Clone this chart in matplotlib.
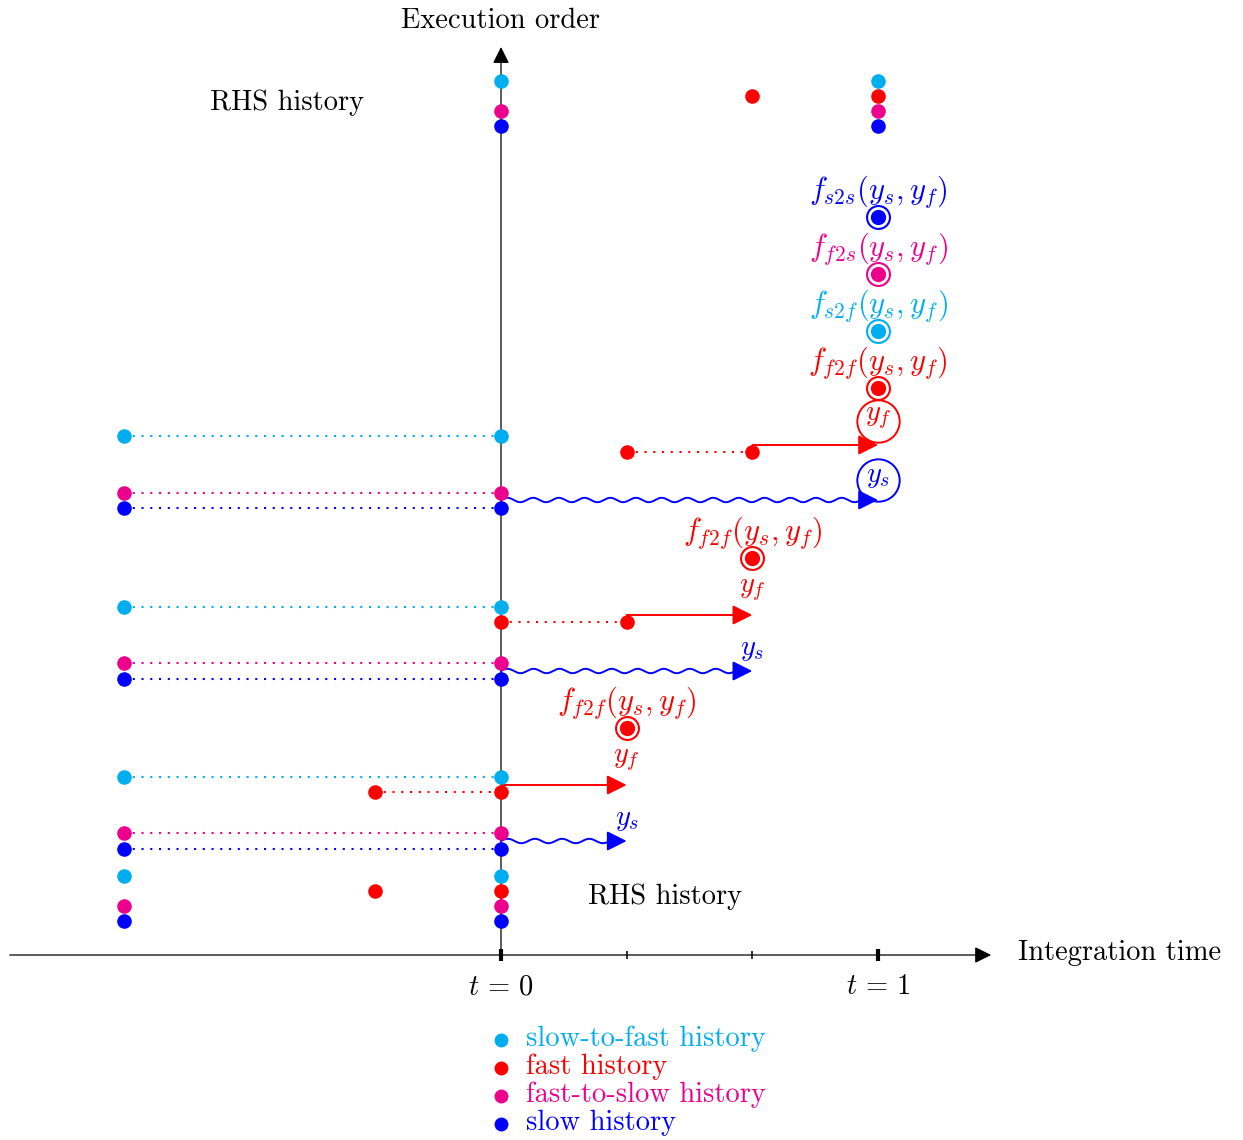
import numpy as np
import matplotlib
matplotlib.use('Agg')
import matplotlib.pyplot as plt
from matplotlib.patches import FancyArrowPatch
from matplotlib.path import Path

plt.rcParams['font.family'] = 'cmr10'
plt.rcParams['mathtext.fontset'] = 'cm'
plt.rcParams['axes.formatter.use_mathtext'] = True

CYAN = '#00AEEF'
RED = '#FF0000'
MAGENTA = '#EC008C'
BLUE = '#0000FF'

# integration time of every history point (t) and its height on the execution-order axis (y)
s2f_t = [-1, 0, -1, 0, -1, 0, -1, 0, 0, 1]
s2f_y = [79, 79, 178, 178, 348, 348, 519, 519, 874, 874]
fast_t = [-1/3, 0, -1/3, 0, 0, 1/3, 1/3, 2/3, 2/3, 1]
fast_y = [64, 64, 163, 163, 333, 333, 503, 503, 859, 859]
f2s_t = [-1, 0, -1, 0, -1, 0, -1, 0, 0, 1]
f2s_y = [49, 49, 122, 122, 292, 292, 462, 462, 844, 844]
slow_t = [-1, 0, -1, 0, -1, 0, -1, 0, 0, 1]
slow_y = [34, 34, 106, 106, 276, 276, 447, 447, 829, 829]

# dotted history links: (colour, t start, t end, y)
links = [
    (CYAN, -1, 0, 178), (MAGENTA, -1, 0, 122), (BLUE, -1, 0, 106), (RED, -1/3, 0, 163),
    (CYAN, -1, 0, 348), (MAGENTA, -1, 0, 292), (BLUE, -1, 0, 276), (RED, 0, 1/3, 333),
    (CYAN, -1, 0, 519), (MAGENTA, -1, 0, 462), (BLUE, -1, 0, 447), (RED, 1/3, 2/3, 503),
]

# fast steps (straight) and slow steps (wavy): t start, t end, y
fast_steps = [(0, 1/3, 170), (1/3, 2/3, 340), (2/3, 1, 510)]
slow_steps = [(0, 1/3, 114), (0, 2/3, 284), (0, 1, 455)]

# plain step labels: t, y, colour, text
step_labels = [
    (1/3, 195, RED, r'$y_f$'), (1/3, 135, BLUE, r'$y_s$'),
    (2/3, 365, RED, r'$y_f$'), (2/3, 305, BLUE, r'$y_s$'),
]
# circled step results at t = 1
circled_t = [1, 1]
circled_y = [534, 475]
circled_c = [RED, BLUE]
circled_txt = [r'$y_f$', r'$y_s$']

# RHS evaluations: t, y, colour, text
rhs_evals = [
    (1/3, 227, RED, r'$f_{f2f}(y_s,y_f)$'),
    (2/3, 397, RED, r'$f_{f2f}(y_s,y_f)$'),
    (1, 567, RED, r'$f_{f2f}(y_s,y_f)$'),
    (1, 624, CYAN, r'$f_{s2f}(y_s,y_f)$'),
    (1, 681, MAGENTA, r'$f_{f2s}(y_s,y_f)$'),
    (1, 738, BLUE, r'$f_{s2s}(y_s,y_f)$'),
]

legend_names = ['slow-to-fast history', 'fast history', 'fast-to-slow history', 'slow history']
legend_colors = [CYAN, RED, MAGENTA, BLUE]

FS = 20.5
W, H = 1243, 1140
fig = plt.figure(figsize=(W / 100, H / 100), dpi=100)
ax = fig.add_axes([0, 0, 1, 1])
# 377 px per unit of t, y measured in px above the time axis
ax.set_xlim(-501 / 377, (W - 501) / 377)
ax.set_ylim(955 - H, 955)
ax.axis('off')

# axes with arrow heads
ax.add_patch(FancyArrowPatch((-1.303, 0), (1.30, 0), arrowstyle='-|>,head_length=10,head_width=5',
                             mutation_scale=1, lw=0.9, color='black', shrinkA=0, shrinkB=0, zorder=1))
ax.add_patch(FancyArrowPatch((0, -4), (0, 908), arrowstyle='-|>,head_length=10,head_width=5',
                             mutation_scale=1, lw=0.9, color='black', shrinkA=0, shrinkB=0, zorder=1))
for tk in [0, 1]:
    ax.plot([tk, tk], [-6, 6], color='black', lw=3, solid_capstyle='butt', zorder=1)
for tk in [1/3, 2/3]:
    ax.plot([tk, tk], [-4, 4], color='black', lw=1.1, solid_capstyle='butt', zorder=1)
ax.text(0, -32, r'$t\,=\,0$', fontsize=FS, ha='center', va='center')
ax.text(1, -32, r'$t\,=\,1$', fontsize=FS, ha='center', va='center')
ax.text(1.371, 2, 'Integration time', fontsize=FS, ha='left', va='center')
ax.text(0, 934, 'Execution order', fontsize=FS, ha='center', va='center')
ax.text(-0.5676, 852, 'RHS history', fontsize=FS, ha='center', va='center')
ax.text(0.435, 58, 'RHS history', fontsize=FS, ha='center', va='center')

# dotted history links
for c, t0, t1, y in links:
    ax.plot([t0, t1], [y, y], color=c, lw=1.5, ls=(0, (1, 3.2)), zorder=2)

# history points
for ts, ys, c in [(s2f_t, s2f_y, CYAN), (fast_t, fast_y, RED),
                  (f2s_t, f2s_y, MAGENTA), (slow_t, slow_y, BLUE)]:
    ax.plot(ts, ys, 'o', ms=10.5, color=c, mec='none', zorder=5)

ARROW = '-|>,head_length=12,head_width=6'

for t0, t1, y in fast_steps:
    ax.add_patch(FancyArrowPatch((t0, y), (t1, y), arrowstyle=ARROW, mutation_scale=1,
                                 lw=1.4, color=RED, shrinkA=0, shrinkB=0, zorder=4))


def wavy_arrow(t0, t1, y, color):
    p0 = ax.transData.transform((t0, y))
    p1 = ax.transData.transform((t1, y))
    head = 17
    run = p1[0] - head - p0[0]
    nper = max(1, round(run / 25))
    xs = np.linspace(p0[0], p0[0] + run, nper * 24 + 1)
    ys = p0[1] + 2.2 * np.sin(2 * np.pi * (xs - p0[0]) * nper / run)
    pts = np.vstack([np.column_stack([xs, ys]), [p1[0], p1[1]]])
    verts = ax.transData.inverted().transform(pts)
    ax.add_patch(FancyArrowPatch(path=Path(verts), arrowstyle=ARROW, mutation_scale=1,
                                 lw=1.4, color=color, zorder=4))


for t0, t1, y in slow_steps:
    wavy_arrow(t0, t1, y, BLUE)

for t, y, c, s in step_labels:
    ax.text(t, y, s, fontsize=FS, color=c, ha='center', va='center')

for t, y, c, s in zip(circled_t, circled_y, circled_c, circled_txt):
    ax.plot(t, y, 'o', ms=30.5, mfc='white', mec=c, mew=1.4, zorder=3)
    ax.text(t, y + 3, s, fontsize=FS, color=c, ha='center', va='center', zorder=6)

for t, y, c, s in rhs_evals:
    ax.plot(t, y, 'o', ms=18, color=c, mec='none', zorder=5)
    ax.plot(t, y, 'o', ms=15, color='white', mec='none', zorder=5)
    ax.plot(t, y, 'o', ms=11, color=c, mec='none', zorder=5)
    ax.text(t, y + 25, s, fontsize=22, color=c, ha='center', va='center')

# legend
for i, (name, c) in enumerate(zip(legend_names, legend_colors)):
    yy = -85 - 28 * i
    ax.plot(0, yy, 'o', ms=10, color=c, mec='none')
    ax.text(0.0663, yy + 1, name, fontsize=FS, color=c, ha='left', va='center')

fig.savefig('out.png', dpi=100)
